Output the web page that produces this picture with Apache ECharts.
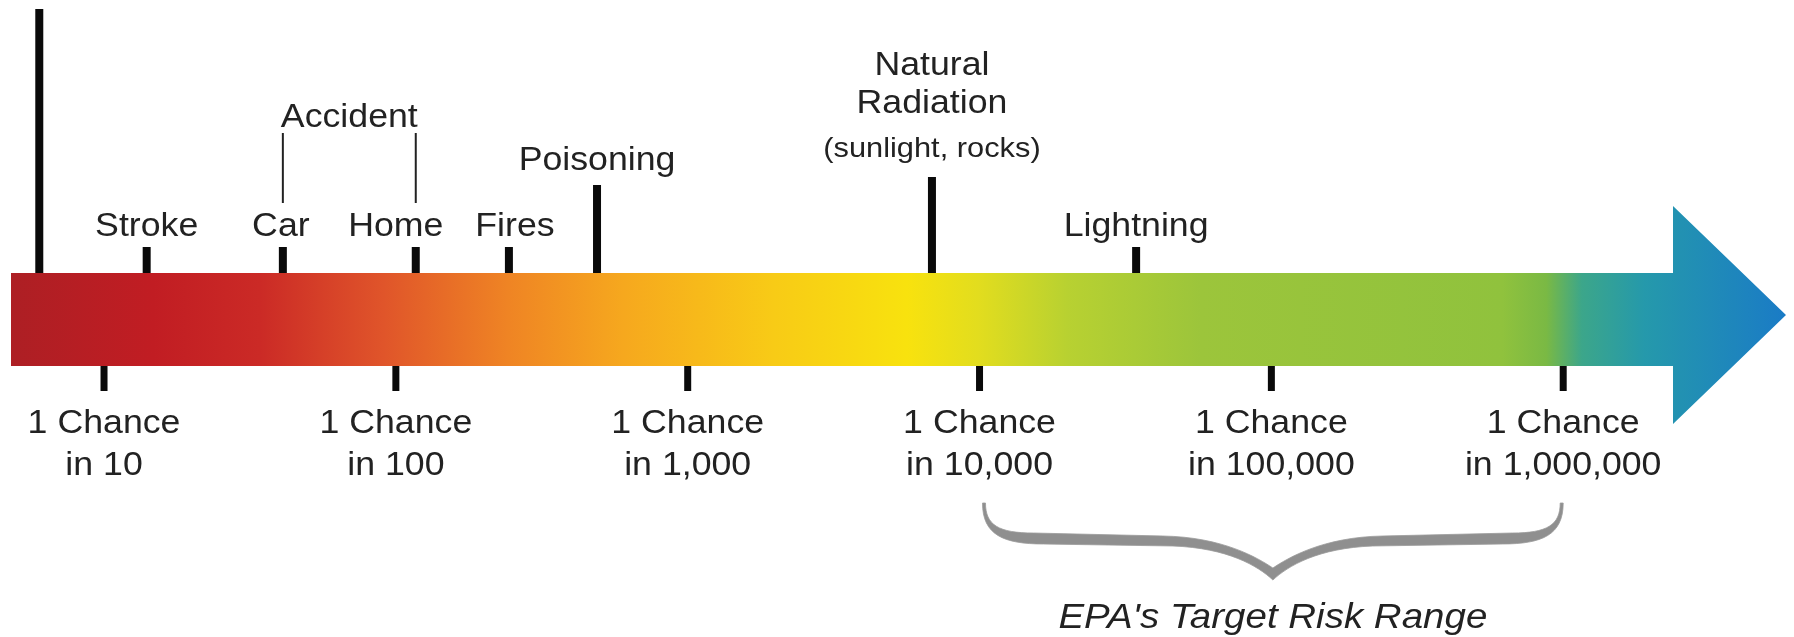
<!DOCTYPE html>
<html><head><meta charset="utf-8">
<script src="https://cdn.jsdelivr.net/npm/echarts@6/dist/echarts.min.js"></script>
<style>html,body{margin:0;padding:0;background:#fff}#c{width:1794px;height:637px}</style>
</head><body><div id="c"></div>
<script>
// ---- data ----
const riskLabels = ['Stroke', 'Car', 'Home', 'Fires', 'Poisoning', 'Natural\nRadiation', 'Lightning'];
const riskNotes  = ['', '', '', '', '', '(sunlight, rocks)', ''];
const riskOdds   = [14, 41, 117, 244, 489, 6870, 34400];       // "1 chance in N"
const topRiskOdds = [6.0];                                      // leading marker, its label is cut off
const groupLabel = 'Accident';
const groupMembers = [1, 2];                                    // indexes of Car, Home
const tickOdds   = [10, 100, 1000, 10000, 100000, 1000000];
const tickLabels = ['1 Chance\nin 10', '1 Chance\nin 100', '1 Chance\nin 1,000',
                    '1 Chance\nin 10,000', '1 Chance\nin 100,000', '1 Chance\nin 1,000,000'];
const targetRange = [10000, 1000000];
const targetLabel = "EPA's Target Risk Range";
const scaleRange = [4.8, 5.8e6];

// ---- layout / style (pixels) ----
const FONT = '"Liberation Sans", Arial, Helvetica, sans-serif';
const FS = 34, SX = 1.05;
const TXT = '#222222';
const BAR_TOP = 273, BAR_BOTTOM = 366, HEAD_TOP = 206, HEAD_BOTTOM = 424, HEAD_LEN = 113;
const riskLayout = [
  { top: 247, ly: 227, dx: 0 },
  { top: 247, ly: 227, dx: -2 },
  { top: 247, ly: 227, dx: -20 },
  { top: 247, ly: 227, dx: 6 },
  { top: 185, ly: 161, dx: 0 },
  { top: 177, ly: 85, dx: 0, noteY: 149 },
  { top: 247, ly: 227, dx: 0 }
];

const chart = echarts.init(document.getElementById('c'), null, { renderer: 'canvas' });

function xOf(api, v) { return api.coord([v, 0])[0]; }
function label(text, x, y, opts) {
  opts = opts || {};
  return {
    type: 'text', x: x, y: y, scaleX: opts.sx || SX, scaleY: 1,
    style: {
      text: text, x: 0, y: 0, align: 'center', verticalAlign: 'middle',
      fontSize: opts.fs || FS, fontStyle: opts.italic ? 'italic' : 'normal',
      fontFamily: FONT, fill: TXT, lineHeight: opts.lh || Math.round((opts.fs || FS) * 1.15)
    }
  };
}

const option = {
  backgroundColor: '#ffffff',
  animation: false,
  grid: { left: 11, right: 8, top: 0, bottom: 0 },
  xAxis: { type: 'log', logBase: 10, min: scaleRange[0], max: scaleRange[1], show: false },
  yAxis: { type: 'value', min: 0, max: 1, show: false },
  series: [
    { // gradient arrow
      type: 'custom', silent: true, z: 1,
      data: [[scaleRange[0], 0]],
      renderItem: function (params, api) {
        const x0 = xOf(api, scaleRange[0]);
        const x1 = xOf(api, scaleRange[1]);
        const hx = x1 - HEAD_LEN;
        const cy = (HEAD_TOP + HEAD_BOTTOM) / 2;
        return {
          type: 'polygon',
          shape: { points: [[x0, BAR_TOP], [hx, BAR_TOP], [hx, HEAD_TOP], [x1, cy], [hx, HEAD_BOTTOM], [hx, BAR_BOTTOM], [x0, BAR_BOTTOM]] },
          style: {
            fill: {
              type: 'linear', x: 0, y: 0, x2: 1, y2: 0,
              colorStops: [
                { offset: 0.00, color: '#ad1f24' },
                { offset: 0.08, color: '#c11d23' },
                { offset: 0.14, color: '#cb2a26' },
                { offset: 0.21, color: '#e0552a' },
                { offset: 0.28, color: '#ef8424' },
                { offset: 0.345, color: '#f6a81e' },
                { offset: 0.43, color: '#f8cb16' },
                { offset: 0.505, color: '#f8e20e' },
                { offset: 0.545, color: '#e2dd1e' },
                { offset: 0.595, color: '#b8d131' },
                { offset: 0.67, color: '#9cc53b' },
                { offset: 0.84, color: '#90c23d' },
                { offset: 0.865, color: '#7ab944' },
                { offset: 0.885, color: '#3ca68a' },
                { offset: 0.92, color: '#2599ab' },
                { offset: 1.00, color: '#1a7bc6' }
              ]
            }
          }
        };
      }
    },
    { // leading tall marker
      type: 'custom', silent: true, z: 2,
      data: topRiskOdds.map(v => [v, 0]),
      renderItem: function (params, api) {
        const x = xOf(api, api.value(0));
        return { type: 'rect', shape: { x: x - 4, y: 9, width: 8, height: BAR_TOP - 9 }, style: { fill: '#0a0a0a' } };
      }
    },
    { // risks above the arrow
      type: 'custom', silent: true, z: 3,
      data: riskOdds.map(v => [v, 0]),
      renderItem: function (params, api) {
        const i = params.dataIndex;
        const lay = riskLayout[i];
        const x = xOf(api, api.value(0));
        const children = [
          { type: 'rect', shape: { x: x - 4, y: lay.top, width: 8, height: BAR_TOP - lay.top }, style: { fill: '#0a0a0a' } },
          label(riskLabels[i], x + lay.dx, lay.ly, { lh: 38 })
        ];
        if (riskNotes[i]) {
          children.push(label(riskNotes[i], x, lay.noteY, { fs: 28, sx: 1.1 }));
        }
        return { type: 'group', children: children };
      }
    },
    { // Accident group bracket
      type: 'custom', silent: true, z: 3,
      data: [[riskOdds[groupMembers[0]], riskOdds[groupMembers[1]]]],
      renderItem: function (params, api) {
        const xa = xOf(api, api.value(0));
        const xb = xOf(api, api.value(1));
        return { type: 'group', children: [
          { type: 'line', shape: { x1: xa, y1: 133, x2: xa, y2: 203 }, style: { stroke: '#222', lineWidth: 2 } },
          { type: 'line', shape: { x1: xb, y1: 133, x2: xb, y2: 203 }, style: { stroke: '#222', lineWidth: 2 } },
          label(groupLabel, (xa + xb) / 2, 118)
        ] };
      }
    },
    { // scale ticks below arrow
      type: 'custom', silent: true, z: 3,
      data: tickOdds.map(v => [v, 0]),
      renderItem: function (params, api) {
        const i = params.dataIndex;
        const x = xOf(api, api.value(0));
        return { type: 'group', children: [
          { type: 'rect', shape: { x: x - 3.5, y: BAR_BOTTOM, width: 7, height: 25 }, style: { fill: '#0a0a0a' } },
          label(tickLabels[i], x, 445, { lh: 42 })
        ] };
      }
    },
    { // EPA target range brace
      type: 'custom', silent: true, z: 3,
      data: [[targetRange[0], targetRange[1]]],
      renderItem: function (params, api) {
        const xa = xOf(api, api.value(0)) + 4;
        const xb = xOf(api, api.value(1)) - 1;
        const xm = (xa + xb) / 2;
        const y0 = 503, yU = 533, yL = 544, yT = 568, yB = 580;
        const P = (x, y) => x.toFixed(1) + ',' + y.toFixed(1);
        const d =
          'M' + P(xa + 2, y0) +
          ' C' + P(xa + 2, y0 + 22) + ' ' + P(xa + 15, yU) + ' ' + P(xa + 50, yU) +
          ' L' + P(xm - 110, yU + 3) +
          ' C' + P(xm - 50, yU + 4) + ' ' + P(xm - 15, yT - 10) + ' ' + P(xm, yT) +
          ' C' + P(xm + 15, yT - 10) + ' ' + P(xm + 50, yU + 4) + ' ' + P(xm + 110, yU + 3) +
          ' L' + P(xb - 50, yU) +
          ' C' + P(xb - 15, yU) + ' ' + P(xb - 2, y0 + 22) + ' ' + P(xb - 2, y0) +
          ' L' + P(xb + 1, y0) +
          ' C' + P(xb + 1, y0 + 32) + ' ' + P(xb - 20, yL) + ' ' + P(xb - 60, yL) +
          ' L' + P(xm + 100, yL + 2) +
          ' C' + P(xm + 45, yL + 4) + ' ' + P(xm + 15, yB - 14) + ' ' + P(xm, yB) +
          ' C' + P(xm - 15, yB - 14) + ' ' + P(xm - 45, yL + 4) + ' ' + P(xm - 100, yL + 2) +
          ' L' + P(xa + 60, yL) +
          ' C' + P(xa + 20, yL) + ' ' + P(xa - 1, y0 + 32) + ' ' + P(xa - 1, y0) + ' Z';
        return { type: 'group', children: [
          { type: 'path', shape: { pathData: d }, style: { fill: '#8f8f8f', stroke: '#9a9a9a', lineWidth: 0.8 } },
          label(targetLabel, xm, 618, { fs: 35, sx: 1.1, italic: true })
        ] };
      }
    }
  ]
};
chart.setOption(option);
</script>
</body></html>
